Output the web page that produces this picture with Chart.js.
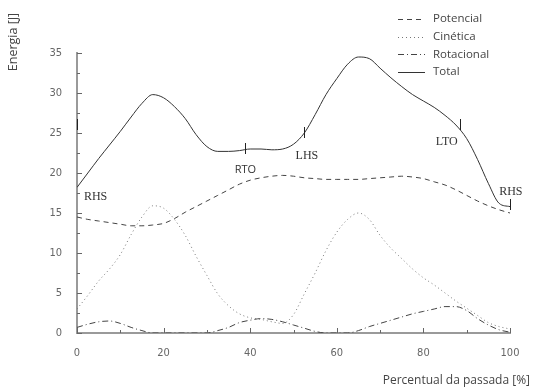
<!DOCTYPE html>
<html>
<head>
<meta charset="utf-8">
<script src="https://cdn.jsdelivr.net/npm/chart.js@4.4.1/dist/chart.umd.min.js"></script>
<style>
  html, body { margin: 0; padding: 0; background: #fff; }
  #wrap { position: relative; width: 533px; height: 390px; }
</style>
</head>
<body>
<div id="wrap"><canvas id="energyChart"></canvas></div>
<script>
var PERCENT = [0, 2.5, 5, 7.5, 10, 12.5, 15, 17.5, 20, 22.5, 25, 27.5, 30, 32.5, 35, 37.5, 40, 42.5, 45, 47.5,
  50, 52.5, 55, 57.5, 60, 62.5, 65, 67.5, 70, 72.5, 75, 77.5, 80, 82.5, 85, 87.5, 90, 92.5, 95, 97.5, 100];
var POTENCIAL = [14.5, 14.2, 14.0, 13.8, 13.6, 13.4, 13.4, 13.5, 13.7, 14.3, 15.1, 15.8, 16.5, 17.2, 17.9, 18.6, 19.1, 19.4, 19.6, 19.7,
  19.6, 19.4, 19.3, 19.2, 19.2, 19.2, 19.2, 19.3, 19.4, 19.5, 19.6, 19.5, 19.3, 18.9, 18.5, 17.9, 17.2, 16.5, 15.9, 15.4, 15.0];
var CINETICA = [3.0, 4.7, 6.5, 8.0, 9.8, 12.3, 14.5, 15.9, 15.6, 14.2, 12.2, 9.6, 7.2, 4.9, 3.4, 2.4, 1.9, 1.7, 1.4, 1.2,
  2.3, 4.9, 7.5, 10.3, 12.6, 14.2, 15.0, 14.2, 12.2, 10.6, 9.3, 8.0, 6.9, 6.0, 5.0, 4.0, 3.1, 2.2, 1.3, 0.8, 0.5];
var ROTACIONAL = [0.7, 1.1, 1.4, 1.5, 1.2, 0.7, 0.3, 0, 0, 0, 0, 0, 0, 0.3, 0.7, 1.3, 1.6, 1.8, 1.7, 1.4,
  1.0, 0.6, 0.2, 0, 0, 0, 0.3, 0.8, 1.2, 1.6, 2.0, 2.4, 2.7, 3.0, 3.3, 3.3, 2.8, 1.8, 1.0, 0.4, 0.1];
var TOTAL = [18.2, 20.0, 21.8, 23.5, 25.2, 27.0, 28.7, 29.8, 29.4, 28.3, 26.8, 24.8, 23.3, 22.7, 22.7, 22.8, 23.0, 23.0, 22.9, 23.0,
  23.6, 25.0, 27.3, 29.8, 31.8, 33.6, 34.5, 34.3, 33.1, 31.9, 30.8, 29.8, 29.0, 28.2, 27.2, 26.0, 24.3, 21.7, 18.7, 16.2, 15.8];

var SERIES_NAMES = ['Potencial', 'Cinética', 'Rotacional', 'Total'];
var X_TICKS = [0, 20, 40, 60, 80, 100];
var Y_TICKS = [0, 5, 10, 15, 20, 25, 30, 35];

// gait events written on the graph
var EVENT_LABELS = ['RHS', 'RTO', 'LHS', 'LTO', 'RHS'];
var EVENT_X = [4.3, 38.9, 53.1, 85.4, 100.2];
var EVENT_Y = [17.0, 20.4, 22.1, 23.9, 17.6];
var MARK_X = [0, 38.8, 52.4, 88.5, 100];
var MARK_Y = [26.0, 23.0, 25.0, 26.0, 16.0];

var INK = '#333333';
var AXIS = '#9a9a9a';
var TICK = '#666666';
var SANS = "'Open Sans', 'Noto Sans', sans-serif";
var NARROW = "'Liberation Sans Narrow', 'DejaVu Sans Condensed', 'Roboto', sans-serif";
var SERIF = "'Liberation Serif', 'DejaVu Serif', serif";

function points(values) {
  return PERCENT.map(function (p, i) { return { x: p, y: values[i] }; });
}

var styles = [
  { data: POTENCIAL, dash: [5, 4], color: '#444444' },
  { data: CINETICA, dash: [1, 3], color: '#777777' },
  { data: ROTACIONAL, dash: [6, 3, 1, 3], color: '#444444' },
  { data: TOTAL, dash: [], color: INK }
];

var datasets = styles.map(function (s, i) {
  return {
    label: SERIES_NAMES[i],
    data: points(s.data),
    borderColor: s.color,
    borderDash: s.dash,
    borderWidth: 1,
    pointRadius: 0,
    cubicInterpolationMode: 'monotone',
    fill: false
  };
});

var decorations = {
  id: 'decorations',
  afterDraw: function (chart) {
    var ctx = chart.ctx;
    var xs = chart.scales.x, ys = chart.scales.y;
    var area = chart.chartArea;
    ctx.save();

    // inward tick marks
    ctx.strokeStyle = TICK;
    ctx.lineWidth = 1;
    ctx.beginPath();
    for (var v = 0; v <= 100; v += 10) {
      var px = Math.round(xs.getPixelForValue(v)) + 0.5;
      ctx.moveTo(px, area.bottom);
      ctx.lineTo(px, area.bottom - (v % 20 === 0 ? 5 : 3));
    }
    for (var w = 0; w <= 35; w += 2.5) {
      var py = Math.round(ys.getPixelForValue(w)) + 0.5;
      ctx.moveTo(area.left, py);
      ctx.lineTo(area.left + (w % 5 === 0 ? 5 : 3), py);
    }
    ctx.stroke();

    // event marks on the total curve
    ctx.strokeStyle = '#222';
    ctx.beginPath();
    MARK_X.forEach(function (mx, i) {
      var cx = Math.round(xs.getPixelForValue(mx)) + 0.5;
      var cy = ys.getPixelForValue(MARK_Y[i]);
      ctx.moveTo(cx, cy - 6);
      ctx.lineTo(cx, cy + 5);
    });
    ctx.stroke();

    // event labels
    ctx.fillStyle = '#333';
    ctx.textAlign = 'center';
    ctx.textBaseline = 'middle';
    EVENT_LABELS.forEach(function (t, i) {
      ctx.font = (t === 'RTO' ? '11px ' + SANS : '12px ' + SERIF);
      ctx.fillText(t, xs.getPixelForValue(EVENT_X[i]), ys.getPixelForValue(EVENT_Y[i]));
    });

    // legend, top right
    ctx.font = '11.5px ' + SANS;
    ctx.textAlign = 'left';
    chart.data.datasets.forEach(function (ds, i) {
      var ly = 19 + i * 17.7;
      ctx.strokeStyle = ds.borderColor;
      ctx.setLineDash(ds.borderDash);
      ctx.beginPath();
      ctx.moveTo(398, Math.round(ly) + 0.5);
      ctx.lineTo(425, Math.round(ly) + 0.5);
      ctx.stroke();
      ctx.setLineDash([]);
      ctx.fillStyle = '#444';
      ctx.fillText(ds.label, 433, ly);
    });

    // axis titles
    ctx.fillStyle = '#444';
    ctx.font = '12px ' + SANS;
    ctx.textAlign = 'right';
    ctx.fillText('Percentual da passada [%]', 530, 381);
    ctx.font = '12.5px ' + SANS;
    ctx.translate(13, 42);
    ctx.rotate(-Math.PI / 2);
    ctx.textAlign = 'center';
    ctx.fillText('Energia [J]', 0, 0);
    ctx.restore();
  }
};

new Chart(document.getElementById('energyChart'), {
  type: 'line',
  data: { datasets: datasets },
  options: {
    responsive: true,
    maintainAspectRatio: false,
    animation: false,
    layout: { padding: { left: 0, top: 53, right: 23, bottom: 0 } },
    plugins: { legend: { display: false }, tooltip: { enabled: false } },
    scales: {
      x: {
        type: 'linear',
        min: 0,
        max: 100,
        afterBuildTicks: function (s) { s.ticks = X_TICKS.map(function (v) { return { value: v }; }); },
        afterFit: function (s) { s.height = 57; },
        grid: { display: false },
        border: { display: true, color: AXIS, width: 2 },
        ticks: { color: TICK, padding: 6, maxRotation: 0, font: { family: NARROW, size: 11 } }
      },
      y: {
        min: 0,
        max: 35,
        afterBuildTicks: function (s) { s.ticks = Y_TICKS.map(function (v) { return { value: v }; }); },
        afterFit: function (s) { s.width = 77; },
        grid: { display: false },
        border: { display: true, color: AXIS, width: 2 },
        ticks: { color: TICK, padding: 7, font: { family: NARROW, size: 11 } }
      }
    }
  },
  plugins: [decorations]
});
</script>
</body>
</html>
